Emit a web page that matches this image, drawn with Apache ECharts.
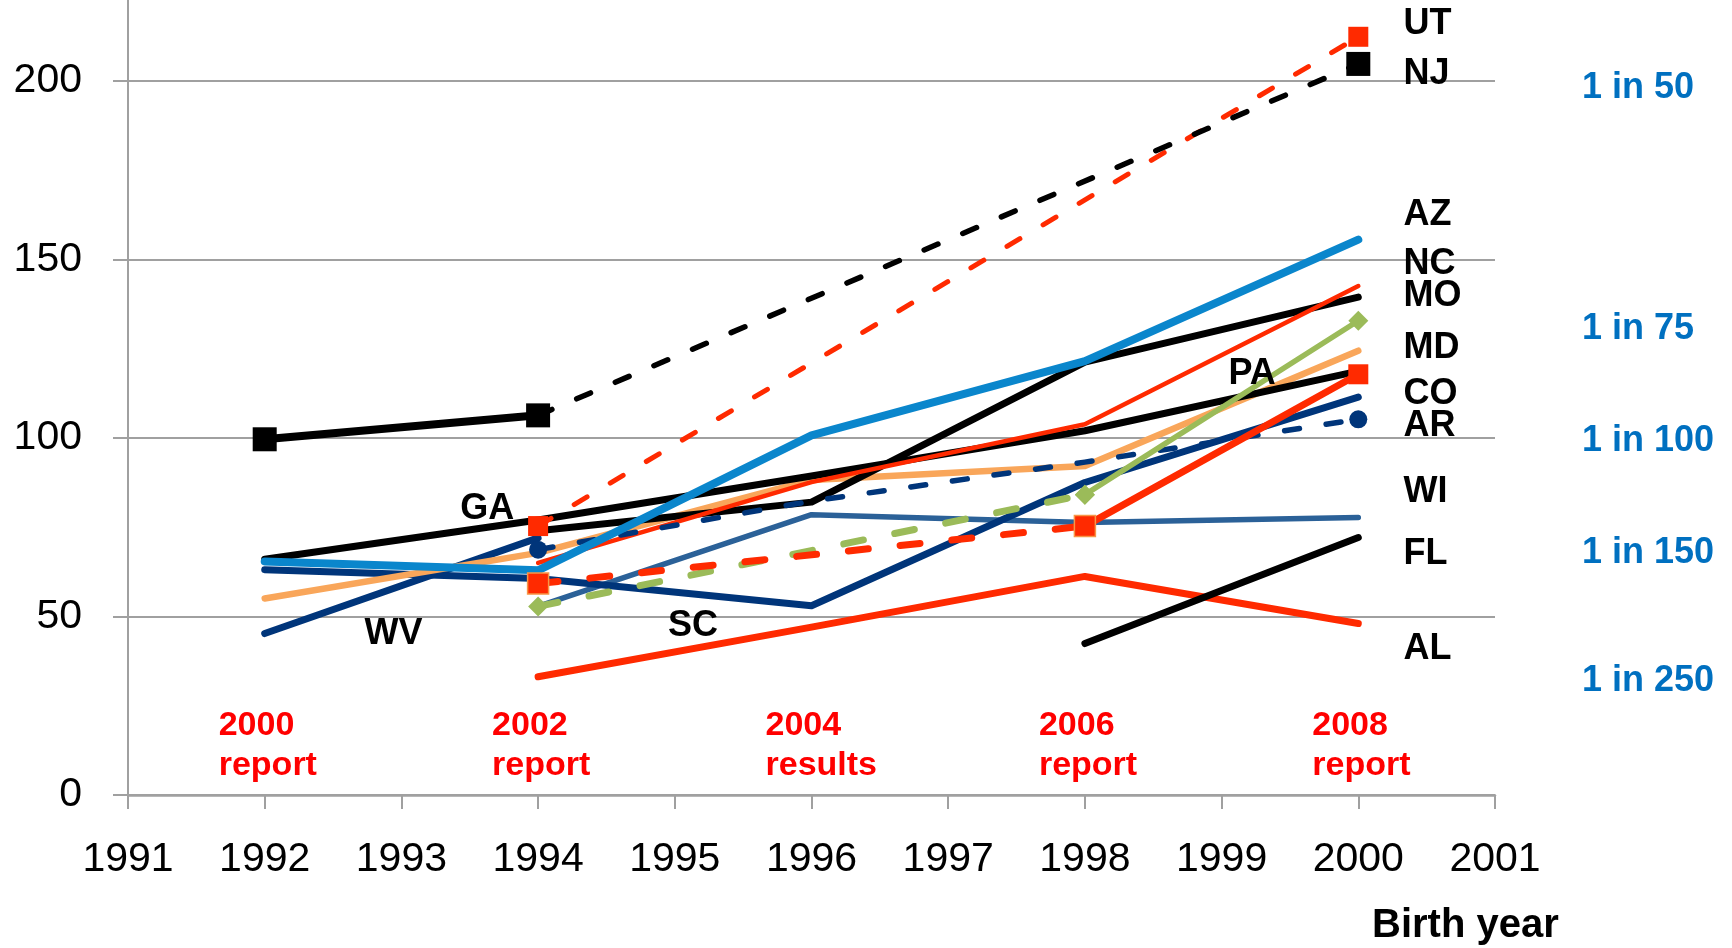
<!DOCTYPE html>
<html>
<head>
<meta charset="utf-8">
<script src="https://cdn.jsdelivr.net/npm/echarts/dist/echarts.min.js"></script>
<style>html,body{margin:0;padding:0;background:#fff}#c{width:1732px;height:948px}</style>
</head>
<body>
<div id="c"></div>
<script>
// ---- data ----
const years = [1992, 1994, 1996, 1998, 2000];
const xTickLabels = [1991, 1992, 1993, 1994, 1995, 1996, 1997, 1998, 1999, 2000, 2001];
const yTickLabels = [0, 50, 100, 150, 200];

const WI = [null, 52.8, 78.5, 76.3, 77.7];
const AL = [null, 33.1, 47.0, 61.2, 48.0];
const FL = [null, null, null, 42.4, 72.1];
const WV = [45.2, 72.0, null, null, null];
const SC = [63.1, 60.6, 53.0, 87.5, 111.4];
const MD = [55.0, 67.8, 88.2, 92.1, 124.4];
const GA = [66.0, 77.0, 89.3, 102.0, 118.7];
const MO = [null, 74.0, 82.0, 121.2, 139.4];
const NC = [null, 65.0, 87.6, 103.8, 142.5];
const AR = [null, 68.7, 82.3, 93.2, 105.2];
const PA_dash = [null, 52.8, null, 84.1, null];
const PA_solid = [null, null, null, 84.1, 132.8];
const CO_dash = [null, 59.2, null, 75.3, null];
const CO_solid = [null, null, null, 75.3, 117.8];
const AZ = [65.4, 62.9, 100.7, 121.5, 155.5];
const UT = [null, 75.3, null, null, 212.3];
const NJ_solid = [99.6, 106.3, null, null, null];
const NJ_dash = [null, 106.3, null, null, 204.7];

// annotations
const stateNames = ['UT', 'NJ', 'AZ', 'NC', 'MO', 'MD', 'CO', 'AR', 'WI', 'FL', 'AL'];
const stateLabelY = [216.8, 202.8, 163.3, 149.5, 140.8, 126.0, 113.3, 104.3, 85.8, 68.4, 41.8];
const innerNames = ['PA', 'GA', 'WV', 'SC'];
const innerX = [1999.05, 1993.43, 1992.73, 1994.95];
const innerY = [118.9, 81.1, 46.0, 48.2];
const reportYears = [1992, 1994, 1996, 1998, 2000];
const reportTexts = ['2000\nreport', '2002\nreport', '2004\nresults', '2006\nreport', '2008\nreport'];
const riskTexts = ['1 in 50', '1 in 75', '1 in 100', '1 in 150', '1 in 250'];
const riskY = [199.0, 131.5, 100.0, 68.7, 33.0];

// ---- chart ----
const FONT = 'Liberation Sans';
const chart = echarts.init(document.getElementById('c'), null, {renderer: 'canvas'});
const series = [];
function add(name, vals, o) {
  const data = [];
  vals.forEach((v, i) => {
    if (v == null) return;
    const item = {value: [years[i], v]};
    if (o.marks && o.marks[i]) { item.symbol = o.symbol; item.symbolSize = o.size; }
    else item.symbol = 'none';
    data.push(item);
  });
  series.push({
    type: 'line', name, data,
    symbol: o.symbol || 'none', showSymbol: true, showAllSymbol: true,
    silent: true, animation: false, emphasis: {disabled: true},
    lineStyle: {color: o.color, width: o.width, type: o.dash || 'solid', cap: 'round', join: 'round'},
    itemStyle: {color: o.mcolor || o.color, borderColor: o.border || o.mcolor || o.color, borderWidth: o.bw || 0}
  });
}
const BLACK = '#000000', RED = '#FF2A00', NAVY = '#00357A', STEEL = '#2B6198',
      ORANGE = '#F9A65A', GREEN = '#9BBB59', SKY = '#0A86CC';
const shortDash = [15, 27], longDash = [20, 32];

add('WI', WI, {color: STEEL, width: 5.5});
add('AL', AL, {color: RED, width: 7});
add('FL', FL, {color: BLACK, width: 7});
add('WV', WV, {color: NAVY, width: 7});
add('SC', SC, {color: NAVY, width: 7});
add('MD', MD, {color: ORANGE, width: 6.5});
add('GA', GA, {color: BLACK, width: 7});
add('MO', MO, {color: BLACK, width: 7});
add('NC', NC, {color: RED, width: 4.5});
add('AR', AR, {color: NAVY, width: 5.5, dash: shortDash, symbol: 'circle', size: 18, marks: [0, 1, 0, 0, 1]});
add('PA', PA_dash, {color: GREEN, width: 7, dash: longDash, symbol: 'diamond', size: 20, marks: [0, 1, 0, 1, 0]});
add('PA2', PA_solid, {color: GREEN, width: 5.5, symbol: 'diamond', size: 20, marks: [0, 0, 0, 1, 1]});
add('CO', CO_dash, {color: RED, width: 7, dash: longDash, symbol: 'rect', size: 21, marks: [0, 1, 0, 1, 0], border: '#F79646', bw: 1.5, mcolor: RED});
add('CO2', CO_solid, {color: RED, width: 7, symbol: 'rect', size: 20, marks: [0, 0, 0, 0, 1]});
add('AZ', AZ, {color: SKY, width: 8});
add('UT', UT, {color: RED, width: 5, dash: shortDash, symbol: 'rect', size: 20, marks: [0, 1, 0, 0, 1]});
add('NJ', NJ_solid, {color: BLACK, width: 8, symbol: 'rect', size: 24, marks: [1, 1, 0, 0, 0]});
add('NJ2', NJ_dash, {color: BLACK, width: 5.5, dash: shortDash, symbol: 'rect', size: 24, marks: [0, 0, 0, 0, 1]});

const GRAY = '#A0A0A0';
chart.setOption({
  animation: false,
  grid: {left: 128, right: 237, top: 0, bottom: 153, containLabel: false},
  xAxis: {
    type: 'value', min: xTickLabels[0], max: xTickLabels[xTickLabels.length - 1], interval: 1,
    axisLine: {show: true, onZero: false, lineStyle: {color: GRAY, width: 2.5}},
    axisTick: {show: true, length: 14, lineStyle: {color: GRAY, width: 2}},
    axisLabel: {fontSize: 41, color: '#000', fontFamily: FONT, margin: 44,
      formatter: v => xTickLabels.indexOf(v) >= 0 ? String(v) : ''},
    splitLine: {show: false}
  },
  yAxis: {
    type: 'value', min: 0, max: 222.6, interval: 50,
    axisLine: {show: true, lineStyle: {color: GRAY, width: 2}},
    axisTick: {show: true, length: 15, lineStyle: {color: GRAY, width: 2}},
    axisLabel: {fontSize: 41, color: '#000', fontFamily: FONT, margin: 46, showMaxLabel: false,
      formatter: v => yTickLabels.indexOf(v) >= 0 ? String(v) : ''},
    splitLine: {show: true, showMaxLine: false, lineStyle: {color: GRAY, width: 2}}
  },
  series
});

// annotations placed through the axes
const px = (x, y) => chart.convertToPixel({gridIndex: 0}, [x, y]);
const graphics = [];
const NUDGE = 3.5; // cap-height centring correction for 'middle' alignment
function txt(text, p, o) {
  const valign = o.valign || 'middle';
  graphics.push({
    type: 'text', x: p[0], y: p[1] + (valign === 'middle' ? NUDGE : 0), z: 100, silent: true,
    style: {text, fill: o.fill, fontSize: o.size, fontWeight: o.weight || 'bold', fontFamily: FONT,
      align: o.align || 'left', verticalAlign: valign, lineHeight: o.lh}
  });
}
stateNames.forEach((s, i) => txt(s, px(2000.33, stateLabelY[i]), {fill: '#000', size: 36}));
innerNames.forEach((s, i) => txt(s, px(innerX[i], innerY[i]), {fill: '#000', size: 36}));
reportYears.forEach((yr, i) => {
  const p = px(yr, 0);
  txt(reportTexts[i], [p[0] - 46, 706], {fill: '#FF0000', size: 34, valign: 'top', lh: 40});
});
riskTexts.forEach((s, i) => {
  const p = px(2001, riskY[i]);
  txt(s, [p[0] + 87, p[1]], {fill: '#0070C0', size: 36});
});
const pb = px(2001, 0);
txt('Birth year', [pb[0] - 123, 922], {fill: '#000', size: 40});
chart.setOption({graphic: graphics});
</script>
</body>
</html>
